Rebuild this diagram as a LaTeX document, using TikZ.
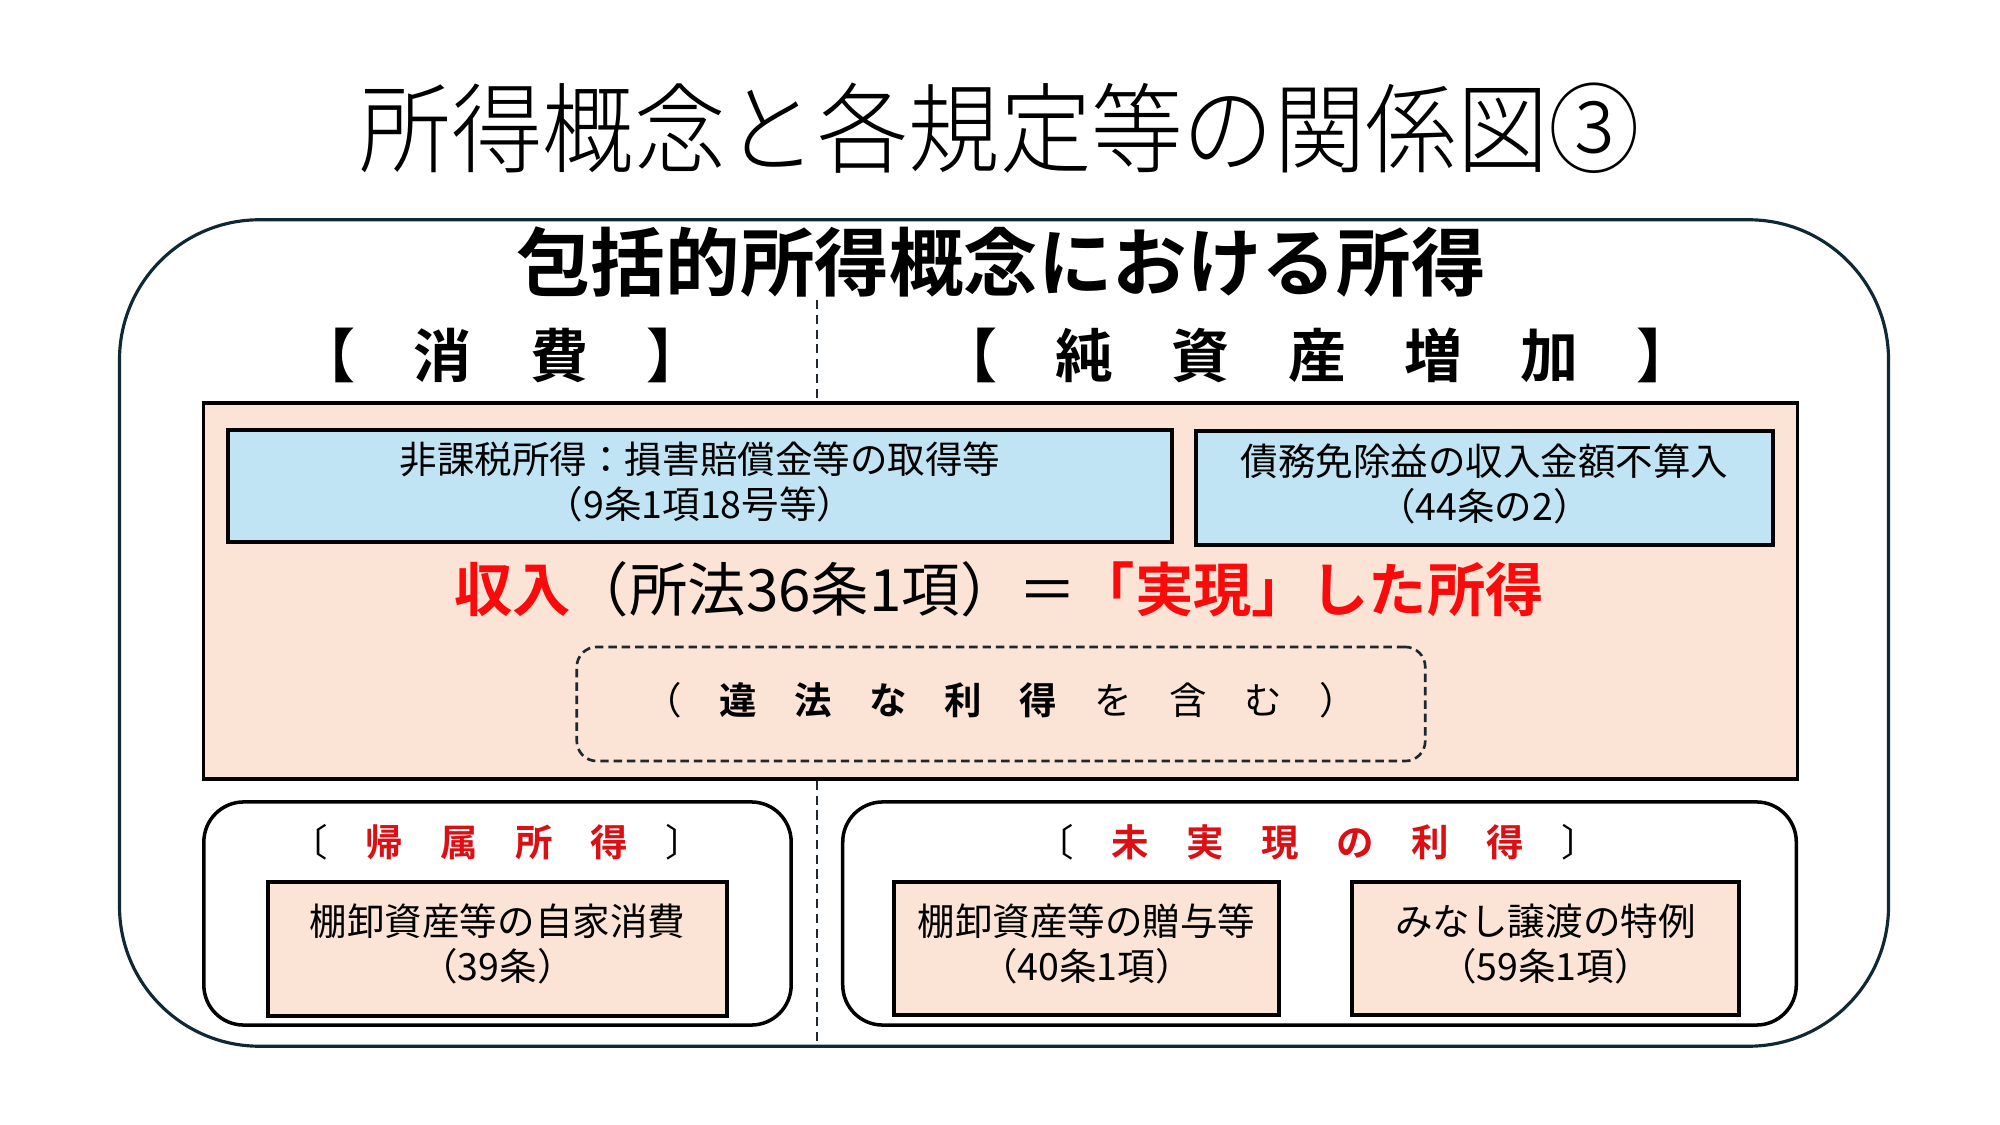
\documentclass[tikz,border=0pt]{standalone}
\usepackage{fontspec}
\setmainfont{Noto Sans CJK JP}
\IfFontExistsTF{Noto Sans CJK JP Light}{\newfontfamily\titlefont{Noto Sans CJK JP Light}}{\newfontfamily\titlefont{Noto Sans CJK JP}}
\IfFontExistsTF{Noto Sans CJK JP Bold}{\newfontfamily\heavyfont{Noto Sans CJK JP Bold}}{\newfontfamily\heavyfont{Noto Sans CJK JP}[FakeBold=2]}
\definecolor{pinkfill}{RGB}{251,228,214}
\definecolor{bluefill}{RGB}{192,228,244}
\definecolor{outerc}{RGB}{16,40,52}
\definecolor{redt}{RGB}{250,10,10}
\definecolor{redl}{RGB}{218,16,20}
\definecolor{dashc}{RGB}{30,40,46}
\begin{document}
\begin{tikzpicture}[x=0.01cm,y=-0.01cm,
  small/.style={font=\fontsize{10.67}{12.8}\selectfont, align=center},
  bluebox/.style={draw=black, line width=1.2pt, fill=bluefill, inner sep=0pt},
  pinkitem/.style={draw=black, line width=1.2pt, fill=pinkfill, inner sep=0pt},
  groupbox/.style={draw=black, line width=1pt, fill=white, rounded corners=0.4cm, inner sep=0pt},
  sidelabel/.style={font=\heavyfont\fontsize{16.5}{18}\selectfont},
  grouplabel/.style={font=\fontsize{10.67}{12.8}\selectfont},
  divider/.style={draw=dashc, line width=0.7pt, dash pattern=on 2.6pt off 1.6pt}
]
\useasboundingbox (0,0) rectangle (2000,1125);

% title
\node[font=\titlefont\fontsize{27.9}{30}\selectfont] (title) at (1000,128) {\scalebox{0.932}[1]{所得概念と各規定等の関係図③}};

% outer rounded frame
\node[draw=outerc, line width=0.9pt, rounded corners=1.4cm, minimum width=17.68cm, minimum height=8.26cm, inner sep=0pt] (outer) at (1004,633) {};

\node[font=\heavyfont\fontsize{21.2}{24}\selectfont] (heading) at (1001,262) {包括的所得概念における所得};

\node[sidelabel] (consume) at (501,355) {【　消　費　】};
\node[sidelabel] (netasset) at (1317,355) {【　純　資　産　増　加　】};

% main pink box
\node[draw=black, line width=1pt, fill=pinkfill, minimum width=15.93cm, minimum height=3.76cm, inner sep=0pt] (pink) at (1000.5,591) {};

\coordinate (dtop) at (817,300);
\draw[divider] (dtop) -- (dtop |- pink.north);
\draw[divider] (dtop |- pink.south) -- (dtop |- outer.south);

\node[bluebox, minimum width=9.44cm, minimum height=1.12cm] (blue1) at (700,486) {};
\node[small] (blue1text) at ([yshift=1.1pt]blue1.center)
  {非課税所得：損害賠償金等の取得等\\（9条1項18号等）};
\node[bluebox, minimum width=5.77cm, minimum height=1.14cm] (blue2) at (1484.5,488) {};
\node[small] (blue2text) at ([yshift=1.1pt]blue2.center)
  {債務免除益の収入金額不算入\\（44条の2）};

\node[font=\fontsize{16.6}{18}\selectfont] (income) at (999,589)
  {{\heavyfont\color{redt}収入}（所法36条1項）＝{\heavyfont\color{redt}「実現」した所得}};

\node[draw=dashc, line width=0.75pt, dash pattern=on 2.4pt off 1.4pt, rounded corners=0.2cm,
  minimum width=8.48cm, minimum height=1.14cm, inner sep=0pt] (illegal) at (1001,704) {};
\node[grouplabel] (illegaltext) at ([yshift=1pt]illegal.center)
  {（　{\heavyfont 違　法　な　利　得}　を　含　む　）};

% bottom left group
\node[groupbox, minimum width=5.87cm, minimum height=2.23cm] (imputed) at (497.5,913.5) {};
\node[grouplabel] (imputedlabel) at (497,842) {〔　{\heavyfont\color{redl}帰　属　所　得}　〕};
\node[pinkitem, minimum width=4.59cm, minimum height=1.34cm] (selfuse) at (497.5,949) {};
\node[small] (selfusetext) at ([yshift=1.3pt]selfuse.center)
  {棚卸資産等の自家消費\\（39条）};

% bottom right group
\node[groupbox, minimum width=9.53cm, minimum height=2.23cm] (unreal) at (1319.5,913.5) {};
\node[grouplabel] (unreallabel) at (1318,842) {〔　{\heavyfont\color{redl}未　実　現　の　利　得}　〕};
\node[pinkitem, minimum width=3.85cm, minimum height=1.33cm] (gift) at (1086.5,948.5) {};
\node[small] (gifttext) at ([yshift=1.3pt]gift.center)
  {棚卸資産等の贈与等\\（40条1項）};
\node[pinkitem, minimum width=3.87cm, minimum height=1.33cm] (deemed) at (1545.5,948.5) {};
\node[small] (deemedtext) at ([yshift=1.3pt]deemed.center)
  {みなし譲渡の特例\\（59条1項）};
\end{tikzpicture}
\end{document}
